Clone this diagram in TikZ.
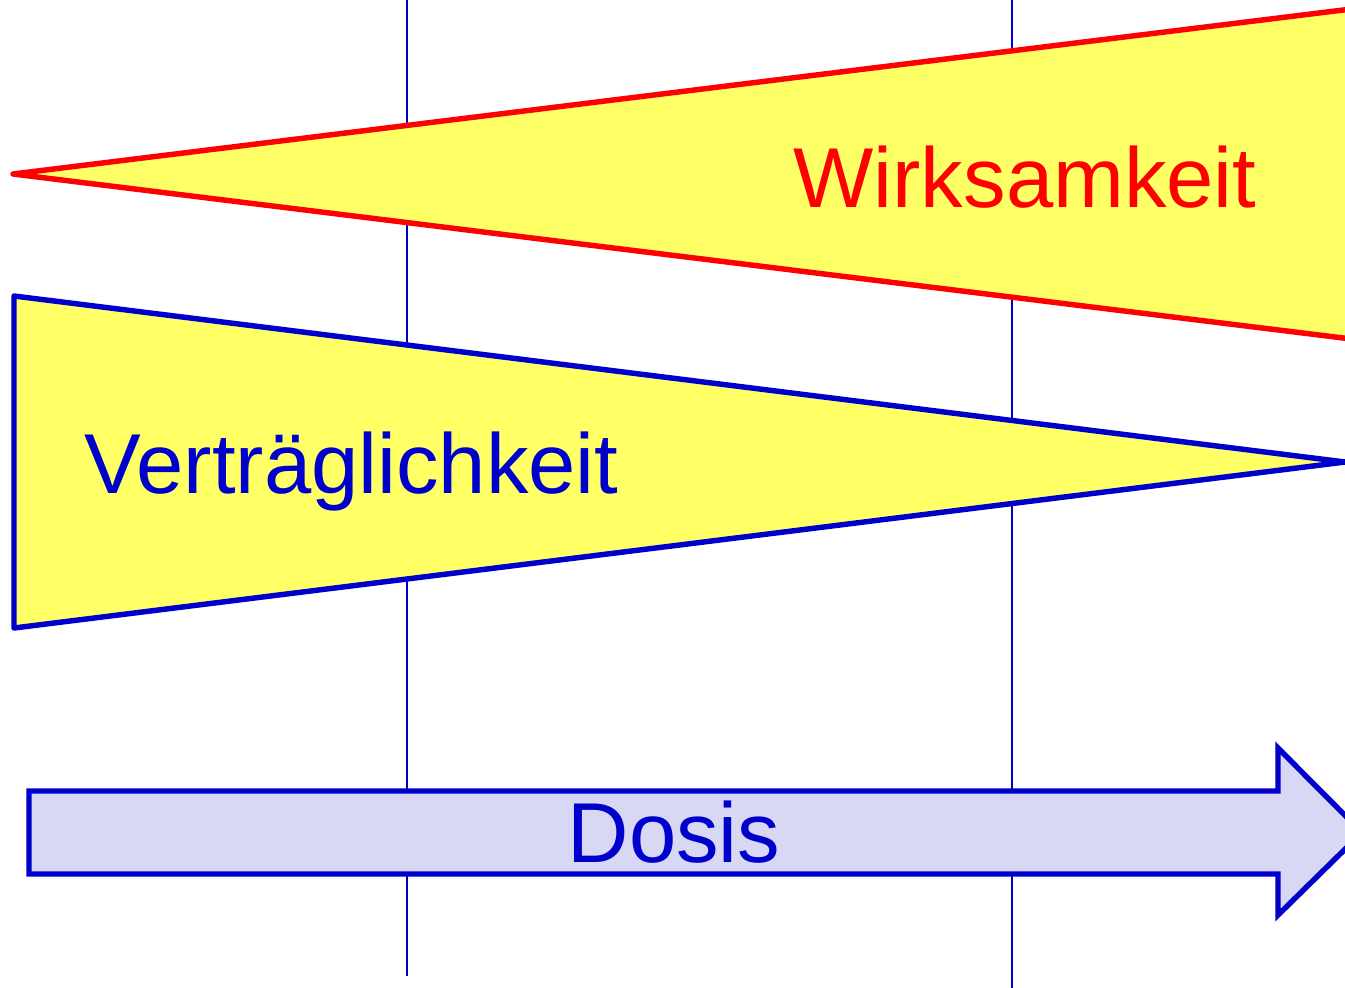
\documentclass[tikz,border=0pt]{standalone}
\usepackage{fontspec}
\setmainfont{Liberation Sans}
\definecolor{myred}{HTML}{FF0000}
\definecolor{myblue}{HTML}{0000CC}
\definecolor{myyellow}{HTML}{FFFF66}
\definecolor{mylav}{HTML}{D8D8F4}
\tikzset{
  guide/.style={draw=myblue, line width=1.5pt},
  wedgered/.style={draw=myred, fill=myyellow, line width=3.1pt, line join=round},
  wedgeblue/.style={draw=myblue, fill=myyellow, line width=3.1pt, line join=round},
  arrowbox/.style={draw=myblue, fill=mylav, line width=3.1pt, line join=miter},
  lbl/.style={anchor=base, inner sep=0pt, font=\fontsize{48.4pt}{50pt}\selectfont}
}
\begin{document}
\begin{tikzpicture}[x=0.02cm, y=-0.02cm]
\useasboundingbox (0,0) rectangle (1345,987);
\clip (0,0) rectangle (1345,987);
\draw[guide] (407,0) -- (407,976);
\draw[guide] (1012,0) -- (1012,990);
\draw[wedgered] (13,174) -- (1400,3) -- (1400,345) -- cycle;
\draw[wedgeblue] (14,296) -- (1345,462) -- (14,628) -- cycle;
\draw[arrowbox] (29,791) -- (1278,791) -- (1278,748) -- (1362,832.5) -- (1278,915) -- (1278,874) -- (29,874) -- cycle;
\node[lbl, text=myred] (wirk) at (1025,207) {Wirksamkeit};
\node[lbl, text=myblue] (vert) at (351.5,493) {Verträglichkeit};
\node[lbl, text=myblue] (dosis) at (674,862) {Dosis};
\end{tikzpicture}
\end{document}
